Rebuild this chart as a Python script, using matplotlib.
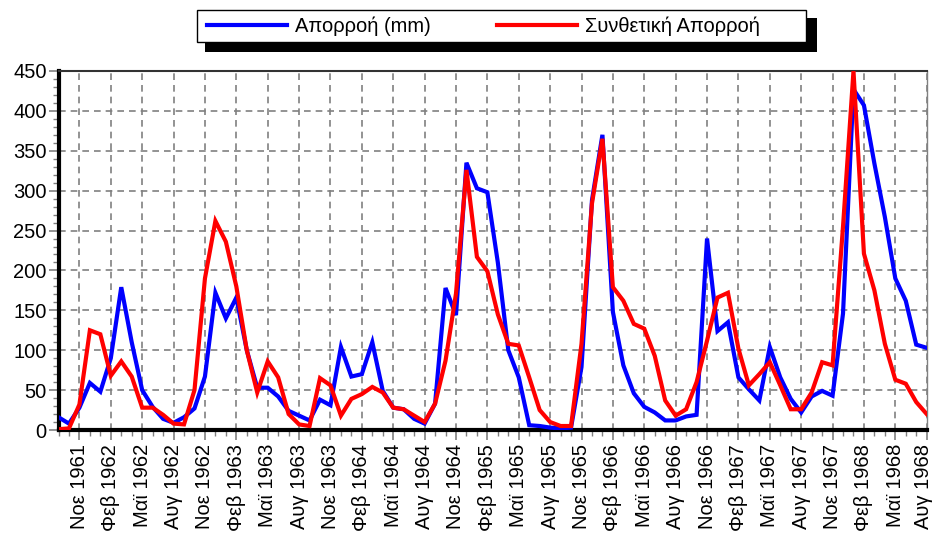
import matplotlib.pyplot as plt
from matplotlib.patches import Rectangle
from matplotlib.lines import Line2D
from matplotlib.ticker import MultipleLocator
from matplotlib.transforms import ScaledTranslation

plt.rcParams['font.family'] = ['Liberation Sans', 'DejaVu Sans']

# Μηνιαίες τιμές, Σεπ 1961 - Αυγ 1968
runoff = [16, 8, 28, 59, 48, 90, 179, 110, 50, 29, 14, 9,
          16, 27, 67, 172, 140, 166, 100, 53, 53, 42, 24, 18,
          12, 38, 31, 104, 67, 70, 110, 49, 28, 26, 14, 8,
          33, 178, 144, 335, 303, 298, 210, 100, 66, 6, 5, 3,
          2, 3, 79, 288, 370, 148, 81, 46, 29, 22, 12, 12,
          17, 19, 240, 124, 135, 66, 51, 37, 104, 66, 39, 22,
          42, 49, 43, 146, 427, 407, 334, 267, 190, 162, 107, 103]
synthetic = [1, 2, 32, 125, 120, 68, 86, 67, 28, 28, 19, 8,
             7, 50, 190, 262, 236, 180, 100, 47, 86, 66, 20, 7,
             5, 65, 56, 18, 39, 45, 54, 47, 28, 26, 18, 10,
             33, 87, 171, 326, 217, 199, 145, 108, 106, 66, 25, 10,
             5, 5, 108, 284, 365, 179, 162, 133, 127, 93, 37, 18,
             26, 60, 112, 166, 172, 102, 56, 70, 85, 56, 26, 26,
             47, 85, 81, 255, 450, 221, 175, 108, 63, 58, 35, 20]
month_names = ['Ιαν', 'Φεβ', 'Μαρ', 'Απρ', 'Μαϊ', 'Ιουν',
               'Ιουλ', 'Αυγ', 'Σεπ', 'Οκτ', 'Νοε', 'Δεκ']
start_year, start_month = 1961, 8  # Σεπτέμβριος (0 = Ιαν)

n = len(runoff)
months = list(range(n))
major = months[2::3]
labels = []
for i in major:
    m = start_month + i
    labels.append(f"{month_names[m % 12]} {start_year + m // 12}")

W, H = 934, 535
FS = 14.5
fig = plt.figure(figsize=(W / 100, H / 100), dpi=100)


def fx(px):
    return px / W


def fy(py):
    return 1 - py / H


ax = fig.add_axes([fx(58.5), fy(430), fx(926.7) - fx(58.5), fy(71) - fy(430)])

ax.plot(months, runoff, color='#0000ff', linewidth=3, solid_joinstyle='miter',
        label='Απορροή (mm)', zorder=3)
ax.plot(months, synthetic, color='#ff0000', linewidth=3, solid_joinstyle='miter',
        label='Συνθετική Απορροή', zorder=4)

ax.set_xlim(0, n - 1)
ax.set_ylim(0, 450)
ax.set_xticks(major, labels, rotation=90)
ax.xaxis.set_minor_locator(MultipleLocator(1))
ax.yaxis.set_major_locator(MultipleLocator(50))
ax.yaxis.set_minor_locator(MultipleLocator(10))

ax.tick_params(which='major', length=7, width=1.2, color='#808080',
               labelsize=FS, pad=1.5)
ax.tick_params(which='minor', length=4, width=1, color='#808080')
ax.tick_params(axis='x', which='major', pad=3)

# η τελευταία ετικέτα λίγο αριστερά ώστε να χωράει στην εικόνα
last = ax.get_xticklabels()[-1]
last.set_transform(last.get_transform() + ScaledTranslation(-3 / 100, 0, fig.dpi_scale_trans))

ax.grid(True, which='major', color='#808080', linestyle=(0, (4, 3)), linewidth=1.2)
ax.set_axisbelow(True)

ax.spines['left'].set_linewidth(3)
ax.spines['left'].set_color('black')
ax.spines['bottom'].set_linewidth(3)
ax.spines['bottom'].set_color('black')
ax.spines['top'].set_linewidth(1.5)
ax.spines['top'].set_color('#333333')
ax.spines['right'].set_linewidth(1)
ax.spines['right'].set_color('#808080')

# Υπόμνημα με σκιά πάνω από το διάγραμμα
fig.add_artist(Rectangle((fx(205), fy(52)), fx(817) - fx(205), fy(18) - fy(52),
                         transform=fig.transFigure, facecolor='black',
                         edgecolor='none'))
fig.add_artist(Rectangle((fx(197), fy(42)), fx(806) - fx(197), fy(10) - fy(42),
                         transform=fig.transFigure, facecolor='white',
                         edgecolor='black', linewidth=1))
for line, x0 in zip(ax.get_lines(), [207, 497]):
    fig.add_artist(Line2D([fx(x0), fx(x0 + 80)], [fy(25), fy(25)],
                          transform=fig.transFigure, color=line.get_color(),
                          linewidth=3))
    fig.text(fx(x0 + 88), fy(26), line.get_label(), fontsize=FS,
             va='center', ha='left')

fig.savefig('out.png', dpi=100)
